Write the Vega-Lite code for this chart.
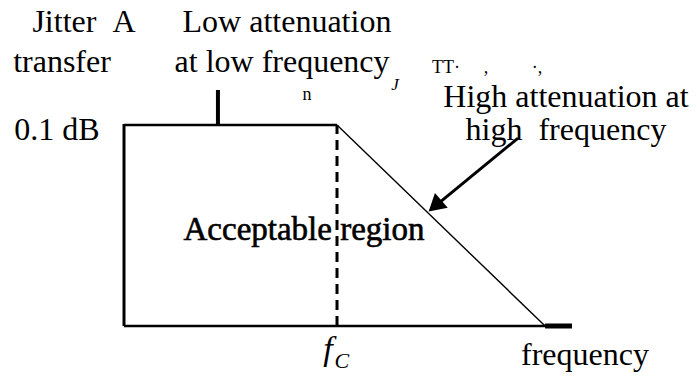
{
  "$schema": "https://vega.github.io/schema/vega-lite/v6.json",
  "width": 697,
  "height": 379,
  "autosize": {"type": "fit", "contains": "padding"},
  "padding": 0,
  "background": "white",
  "config": {"view": {"stroke": null}},
  "datasets": {
    "segments": [
      {"part": "left", "f": 0, "L": 0, "f2": 0, "L2": 1.005},
      {"part": "top", "f": 0, "L": 1, "f2": 1, "L2": 1},
      {"part": "tick", "f": 0.441, "L": 1, "f2": 0.441, "L2": 1.174},
      {"part": "bottom", "f": 0, "L": 0, "f2": 2.103, "L2": 0},
      {"part": "bottomend", "f": 1.977, "L": 0, "f2": 2.103, "L2": 0},
      {"part": "cutoff", "f": 1, "L": 0, "f2": 1, "L2": 1},
      {"part": "slope", "f": 1, "L": 1, "f2": 1.977, "L2": 0},
      {"part": "arrow", "f": 1.85, "L": 0.935, "f2": 1.465, "L2": 0.6}
    ],
    "arrowhead": [
      {"f": 1.46, "L": 0.597}
    ],
    "labels": [
      {"kind": "main", "text": "Jitter\u00a0\u00a0A", "f": -0.188, "L": 1.463},
      {"kind": "main", "text": "transfer", "f": -0.291, "L": 1.264},
      {"kind": "main", "text": "Low attenuation", "f": 0.765, "L": 1.463},
      {"kind": "main", "text": "at low frequency", "f": 0.742, "L": 1.264},
      {"kind": "main", "text": "High attenuation at", "f": 2.075, "L": 1.09},
      {"kind": "main", "text": "high\u00a0 frequency", "f": 2.075, "L": 0.925},
      {"kind": "main", "text": "0.1 dB", "f": -0.315, "L": 0.925},
      {"kind": "main", "text": "frequency", "f": 2.164, "L": -0.194},
      {"kind": "small", "text": "n", "f": 0.859, "L": 1.124},
      {"kind": "small", "text": "TT·", "f": 1.512, "L": 1.259},
      {"kind": "small", "text": ",", "f": 1.700, "L": 1.259},
      {"kind": "small", "text": "·,", "f": 1.939, "L": 1.259},
      {"kind": "smallitalic", "text": "J", "f": 1.272, "L": 1.174},
      {"kind": "region", "text": "Acceptable region", "f": 0.845, "L": 0.428},
      {"kind": "fc", "text": "f", "f": 0.958, "L": -0.169},
      {"kind": "sub", "text": "C", "f": 1.023, "L": -0.209}
    ]
  },
  "encoding": {
    "x": {"field": "f", "type": "quantitative", "scale": {"domain": [-0.5822, 2.6901], "nice": false, "zero": false}, "axis": null},
    "y": {"field": "L", "type": "quantitative", "scale": {"domain": [-0.2637, 1.6219], "nice": false, "zero": false}, "axis": null}
  },
  "layer": [
    {
      "data": {"name": "segments"},
      "transform": [{"filter": "datum.part === 'left'"}],
      "mark": {"type": "rule", "color": "black", "strokeWidth": 3},
      "encoding": {"x2": {"field": "f2"}, "y2": {"field": "L2"}}
    },
    {
      "data": {"name": "segments"},
      "transform": [{"filter": "datum.part === 'top' || datum.part === 'bottom'"}],
      "mark": {"type": "rule", "color": "black", "strokeWidth": 2.5},
      "encoding": {"x2": {"field": "f2"}, "y2": {"field": "L2"}}
    },
    {
      "data": {"name": "segments"},
      "transform": [{"filter": "datum.part === 'tick'"}],
      "mark": {"type": "rule", "color": "black", "strokeWidth": 4},
      "encoding": {"x2": {"field": "f2"}, "y2": {"field": "L2"}}
    },
    {
      "data": {"name": "segments"},
      "transform": [{"filter": "datum.part === 'bottomend'"}],
      "mark": {"type": "rule", "color": "black", "strokeWidth": 5},
      "encoding": {"x2": {"field": "f2"}, "y2": {"field": "L2"}}
    },
    {
      "data": {"name": "segments"},
      "transform": [{"filter": "datum.part === 'cutoff'"}],
      "mark": {"type": "rule", "color": "black", "strokeWidth": 3, "strokeDash": [10, 6]},
      "encoding": {"x2": {"field": "f2"}, "y2": {"field": "L2"}}
    },
    {
      "data": {"name": "segments"},
      "transform": [{"filter": "datum.part === 'slope'"}],
      "mark": {"type": "rule", "color": "black", "strokeWidth": 1.4},
      "encoding": {"x2": {"field": "f2"}, "y2": {"field": "L2"}}
    },
    {
      "data": {"name": "segments"},
      "transform": [{"filter": "datum.part === 'arrow'"}],
      "mark": {"type": "rule", "color": "black", "strokeWidth": 3},
      "encoding": {"x2": {"field": "f2"}, "y2": {"field": "L2"}}
    },
    {
      "data": {"name": "arrowhead"},
      "mark": {"type": "point", "shape": "triangle-up", "filled": true, "color": "black", "opacity": 1, "size": 380, "angle": 229}
    },
    {
      "data": {"name": "labels"},
      "transform": [{"filter": "datum.kind === 'main'"}],
      "mark": {"type": "text", "font": "Times New Roman, Liberation Serif, serif", "fontSize": 32, "align": "center", "baseline": "alphabetic", "color": "black"},
      "encoding": {"text": {"field": "text"}}
    },
    {
      "data": {"name": "labels"},
      "transform": [{"filter": "datum.kind === 'small'"}],
      "mark": {"type": "text", "font": "Times New Roman, Liberation Serif, serif", "fontSize": 18, "align": "center", "baseline": "alphabetic", "color": "black"},
      "encoding": {"text": {"field": "text"}}
    },
    {
      "data": {"name": "labels"},
      "transform": [{"filter": "datum.kind === 'smallitalic'"}],
      "mark": {"type": "text", "font": "Times New Roman, Liberation Serif, serif", "fontSize": 17, "fontStyle": "italic", "align": "center", "baseline": "alphabetic", "color": "black"},
      "encoding": {"text": {"field": "text"}}
    },
    {
      "data": {"name": "labels"},
      "transform": [{"filter": "datum.kind === 'region'"}],
      "mark": {"type": "text", "font": "Times New Roman, Liberation Serif, serif", "fontSize": 33, "align": "center", "baseline": "alphabetic", "color": "black", "stroke": "black", "strokeWidth": 0.6},
      "encoding": {"text": {"field": "text"}}
    },
    {
      "data": {"name": "labels"},
      "transform": [{"filter": "datum.kind === 'fc'"}],
      "mark": {"type": "text", "font": "Times New Roman, Liberation Serif, serif", "fontSize": 34, "fontStyle": "italic", "align": "center", "baseline": "alphabetic", "color": "black"},
      "encoding": {"text": {"field": "text"}}
    },
    {
      "data": {"name": "labels"},
      "transform": [{"filter": "datum.kind === 'sub'"}],
      "mark": {"type": "text", "font": "Times New Roman, Liberation Serif, serif", "fontSize": 22, "fontStyle": "italic", "align": "center", "baseline": "alphabetic", "color": "black"},
      "encoding": {"text": {"field": "text"}}
    }
  ]
}
